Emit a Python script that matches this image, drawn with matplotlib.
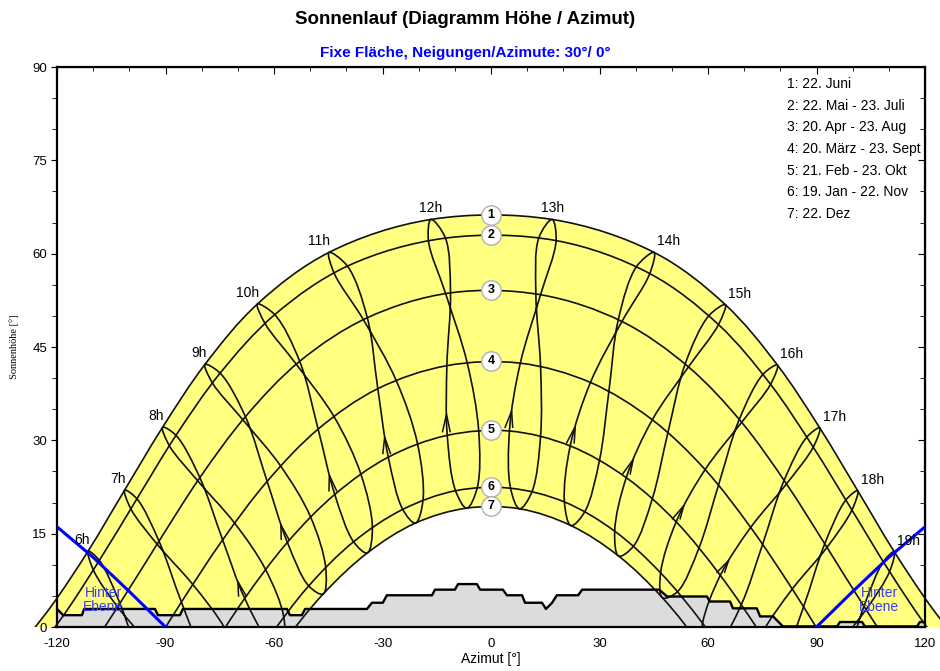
import numpy as np
import matplotlib
matplotlib.use("Agg")
import matplotlib.pyplot as plt
from matplotlib.path import Path
from matplotlib.patches import PathPatch, Rectangle, Polygon
from matplotlib.ticker import MultipleLocator

plt.rcParams["font.family"] = ["Liberation Sans", "DejaVu Sans"]
plt.rcParams["axes.unicode_minus"] = False

# sun position at the full hours 4h ... 21h (azimuth / height in degrees)
hours = list(range(4, 22))
az_jun22 = [-133.0, -121.9, -111.4, -101.3, -90.8, -79.1, -64.6, -44.8, -16.6, 16.9, 45.1, 64.8, 79.2, 90.9, 101.4, 111.5, 122.0, 133.1]
alt_jun22 = [-5.0, 3.1, 12.2, 22.0, 32.1, 42.2, 51.9, 60.2, 65.5, 65.5, 60.2, 51.8, 42.1, 32.0, 21.9, 12.1, 3.0, -5.1]
az_may22 = [-130.2, -118.9, -108.3, -97.9, -87.1, -74.9, -59.8, -39.7, -12.6, 18.0, 43.9, 62.9, 77.3, 89.1, 99.8, 110.2, 120.9, 132.4]
alt_may22 = [-7.0, 1.3, 10.7, 20.6, 30.8, 40.8, 50.2, 58.0, 62.5, 62.1, 56.8, 48.6, 39.0, 28.9, 18.8, 8.9, -0.3, -8.4]
az_jul23 = [-132.1, -120.6, -109.9, -99.6, -88.9, -77.0, -62.5, -43.4, -17.3, 13.2, 40.2, 60.2, 75.2, 87.3, 98.1, 108.5, 119.1, 130.5]
alt_jul23 = [-8.3, -0.1, 9.1, 19.0, 29.1, 39.2, 48.8, 56.9, 62.1, 62.5, 57.9, 50.0, 40.6, 30.5, 20.4, 10.5, 1.1, -7.2]
az_apr20 = [-125.7, -113.7, -102.6, -91.8, -80.5, -67.9, -52.9, -34.2, -11.2, 13.7, 36.2, 54.6, 69.3, 81.7, 92.9, 103.7, 114.8, 126.9]
alt_apr20 = [-14.8, -5.9, 3.8, 13.8, 24.0, 33.8, 42.7, 49.7, 53.7, 53.4, 49.1, 41.8, 32.9, 23.0, 12.8, 2.8, -6.8, -15.6]
az_aug23 = [-126.3, -114.3, -103.2, -92.3, -81.1, -68.6, -53.8, -35.3, -12.5, 12.4, 35.2, 53.7, 68.6, 81.0, 92.3, 103.1, 114.2, 126.3]
alt_aug23 = [-15.2, -6.4, 3.2, 13.3, 23.5, 33.3, 42.2, 49.4, 53.5, 53.6, 49.4, 42.3, 33.3, 23.5, 13.4, 3.3, -6.4, -15.2]
az_mar20 = [-120.7, -108.1, -96.6, -85.6, -74.2, -61.9, -47.8, -31.3, -12.2, 8.1, 27.5, 44.6, 59.2, 71.8, 83.3, 94.3, 105.6, 118.0]
alt_mar20 = [-25.4, -16.1, -6.2, 4.0, 14.0, 23.4, 31.8, 38.3, 42.0, 42.4, 39.3, 33.3, 25.3, 16.0, 6.1, -4.1, -14.1, -23.6]
az_sep23 = [-117.0, -104.8, -93.5, -82.4, -70.9, -58.2, -43.4, -26.2, -6.6, 13.7, 32.6, 48.9, 62.9, 75.1, 86.4, 97.4, 108.9, 121.7]
alt_sep23 = [-22.9, -13.4, -3.4, 6.8, 16.7, 25.9, 33.8, 39.6, 42.5, 41.9, 37.9, 31.2, 22.8, 13.3, 3.2, -7.0, -16.9, -26.1]
az_feb21 = [-114.3, -101.4, -90.0, -79.1, -68.1, -56.3, -43.2, -28.4, -12.1, 5.1, 21.9, 37.4, 51.2, 63.4, 74.7, 85.5, 96.6, 108.8]
alt_feb21 = [-35.2, -25.5, -15.3, -5.2, 4.6, 13.6, 21.3, 27.3, 30.8, 31.5, 29.1, 24.0, 16.9, 8.3, -1.2, -11.2, -21.4, -31.3]
az_oct23 = [-107.5, -95.5, -84.5, -73.6, -62.3, -49.9, -36.0, -20.3, -3.4, 13.7, 30.0, 44.6, 57.5, 69.2, 80.2, 91.1, 102.6, 115.7]
alt_oct23 = [-30.3, -20.4, -10.2, -0.2, 9.2, 17.7, 24.6, 29.4, 31.5, 30.6, 26.8, 20.6, 12.7, 3.6, -6.2, -16.3, -26.4, -36.1]
az_jan19 = [-105.7, -93.4, -82.6, -72.2, -61.6, -50.4, -38.0, -24.4, -9.8, 5.4, 20.3, 34.2, 46.9, 58.5, 69.2, 79.6, 90.2, 102.0]
alt_jan19 = [-41.4, -31.4, -21.2, -11.3, -1.9, 6.6, 13.7, 18.9, 21.9, 22.3, 20.1, 15.4, 8.7, 0.6, -8.5, -18.3, -28.4, -38.6]
az_nov22 = [-100.7, -89.1, -78.5, -68.1, -57.3, -45.7, -32.8, -18.8, -3.8, 11.3, 25.9, 39.4, 51.6, 62.8, 73.3, 83.7, 94.7, 107.2]
alt_nov22 = [-37.5, -27.4, -17.2, -7.5, 1.6, 9.5, 16.0, 20.4, 22.4, 21.7, 18.5, 13.0, 5.7, -2.8, -12.3, -22.3, -32.4, -42.4]
az_dec22 = [-100.3, -88.7, -78.2, -68.1, -57.6, -46.4, -34.2, -20.9, -6.7, 7.9, 22.1, 35.3, 47.4, 58.5, 68.9, 79.1, 89.6, 101.4]
alt_dec22 = [-41.7, -31.6, -21.5, -11.7, -2.7, 5.3, 11.9, 16.7, 19.1, 19.0, 16.3, 11.4, 4.7, -3.4, -12.6, -22.3, -32.5, -42.6]

# small spikes on the hour lines (8h ... 17h): tip and foot
spike_tip_az = [-70.0, -58.1, -44.7, -29.4, -12.3, 5.7, 23.3, 39.3, 53.3, 65.7]
spike_tip_alt = [7.3, 16.4, 24.4, 30.5, 34.2, 34.7, 32.2, 26.9, 19.5, 10.7]
spike_foot_az = [-68.5, -56.7, -43.5, -28.6, -12.1, 5.2, 22.2, 37.7, 51.5, 63.8]
spike_foot_alt = [5.0, 14.1, 21.9, 27.9, 31.4, 32.1, 29.6, 24.6, 17.4, 8.8]

date_labels = ["1: 22. Juni", "2: 22. Mai - 23. Juli", "3: 20. Apr - 23. Aug",
               "4: 20. März - 23. Sept", "5: 21. Feb - 23. Okt",
               "6: 19. Jan - 22. Nov", "7: 22. Dez"]
noon_alt = [66.2, 63.0, 54.1, 42.7, 31.6, 22.5, 19.4]

# far horizon profile
hz_az = [-120, -118.3, -113.1, -112.5, -92.9, -92.1, -86, -85.2, -56.4, -55.6, -52.3, -51.4,
         -34.3, -32.9, -29.9, -28.8, -16.3, -15.5, -10, -9.1, -3.9, -3.0, 3.3, 4.4, 8.6, 9.4,
         14.1, 15.2, 16.9, 18.2, 24.1, 25.2, 46.5, 48.7, 59.7, 60.5, 66.1, 66.9, 73.5, 74.4,
         78, 80.7, 95.7, 96.5, 102.6, 103.4, 117.8, 118.6, 120]
hz_alt = [2.9, 1.9, 1.9, 2.9, 2.9, 1.9, 1.9, 2.9, 2.9, 1.9, 1.9, 2.9,
          2.9, 3.9, 3.9, 5.1, 5.1, 6.0, 6.0, 6.9, 6.9, 6.0, 6.0, 5.1, 5.1, 3.9,
          3.9, 2.9, 3.9, 5.1, 5.1, 6.0, 6.0, 4.9, 4.9, 4.1, 4.1, 3.0, 3.0, 1.7,
          1.7, 0.1, 0.1, 0.8, 0.8, 0.1, 0.1, 0.8, 0.8]

# plane of the tilted collector ("Hinter Ebene")
plane_az = [-120, -110, -100, -90]
plane_alt = [16.1, 11.2, 5.7, 0.0]

AZ = {"jun22": az_jun22, "may22": az_may22, "jul23": az_jul23, "apr20": az_apr20,
      "aug23": az_aug23, "mar20": az_mar20, "sep23": az_sep23, "feb21": az_feb21,
      "oct23": az_oct23, "jan19": az_jan19, "nov22": az_nov22, "dec22": az_dec22}
ALT = {"jun22": alt_jun22, "may22": alt_may22, "jul23": alt_jul23, "apr20": alt_apr20,
       "aug23": alt_aug23, "mar20": alt_mar20, "sep23": alt_sep23, "feb21": alt_feb21,
       "oct23": alt_oct23, "jan19": alt_jan19, "nov22": alt_nov22, "dec22": alt_dec22}
curves = ["jun22", "may22", "apr20", "mar20", "feb21", "jan19", "dec22"]
year = ["dec22", "jan19", "feb21", "mar20", "apr20", "may22", "jun22",
        "jul23", "aug23", "sep23", "oct23", "nov22"]


def smooth_path(xs, ys, closed=False):
    # centripetal catmull-rom through the points, drawn as bezier segments
    p = np.column_stack([xs, ys]).astype(float)
    if closed:
        ext = np.vstack([p[-1], p, p[0], p[1]])
    else:
        ext = np.vstack([2 * p[0] - p[1], p, 2 * p[-1] - p[-2]])
    sc = np.array([1.0, 1.7])
    verts, codes = [ext[1]], [Path.MOVETO]
    for i in range(1, len(ext) - 2):
        p0, p1, p2, p3 = ext[i - 1], ext[i], ext[i + 1], ext[i + 2]
        d0 = max(np.hypot(*((p1 - p0) * sc)) ** 0.5, 1e-3)
        d1 = max(np.hypot(*((p2 - p1) * sc)) ** 0.5, 1e-3)
        d2 = max(np.hypot(*((p3 - p2) * sc)) ** 0.5, 1e-3)
        m1 = d1 * ((p1 - p0) / d0 - (p2 - p0) / (d0 + d1) + (p2 - p1) / d1)
        m2 = d1 * ((p2 - p1) / d1 - (p3 - p1) / (d1 + d2) + (p3 - p2) / d2)
        verts += [p1 + m1 / 3, p2 - m2 / 3, p2]
        codes += [Path.CURVE4] * 3
    return Path(verts, codes)


fig = plt.figure(figsize=(9.4, 6.71), dpi=100)
ax = fig.add_axes([57 / 940, 44 / 671, 868 / 940, 560 / 671])
ax.set_xlim(-120, 120)
ax.set_ylim(0, 90)
clip = Rectangle((-130, 0), 260, 95, transform=ax.transData)

# yellow band between 22 June and 22 Dec
pj = smooth_path(AZ["jun22"], ALT["jun22"])
pd_ = smooth_path(AZ["dec22"][::-1], ALT["dec22"][::-1])
band = Path(np.vstack([pj.vertices, pd_.vertices]),
            list(pj.codes) + [Path.LINETO] + list(pd_.codes[1:]))
yel = PathPatch(band, facecolor="#ffff80", edgecolor="none", zorder=1)
ax.add_patch(yel)
yel.set_clip_path(clip)

# horizon
ax.add_patch(Polygon(list(zip(hz_az, hz_alt)) + [(120, 0), (-120, 0)],
                     closed=True, facecolor="#dcdcdc", edgecolor="none", zorder=2))
ax.plot(hz_az, hz_alt, color="black", lw=1.7, zorder=4)

# date curves
for c in curves:
    pp = PathPatch(smooth_path(AZ[c], ALT[c]), facecolor="none",
                   edgecolor="#111111", lw=1.2, zorder=3)
    ax.add_patch(pp)
    pp.set_clip_path(clip)

# hour lines (analemma) 6h ... 19h
for h in range(6, 20):
    i = hours.index(h)
    xs = [AZ[k][i] for k in year]
    ys = [ALT[k][i] for k in year]
    pp = PathPatch(smooth_path(xs, ys, closed=True), facecolor="none",
                   edgecolor="#111111", lw=1.2, zorder=3)
    ax.add_patch(pp)
    pp.set_clip_path(clip)
    xj, yj = AZ["jun22"][i], ALT["jun22"][i]
    if h < 12:
        ax.annotate(f"{h}h", (xj, yj), xytext=(1, 3), textcoords="offset points",
                    ha="right", va="bottom", fontsize=10, zorder=7)
    elif h < 14:
        ax.annotate(f"{h}h", (xj, yj), xytext=(0, 3), textcoords="offset points",
                    ha="center", va="bottom", fontsize=10, zorder=7)
    else:
        ax.annotate(f"{h}h", (xj, yj), xytext=(2, 3), textcoords="offset points",
                    ha="left", va="bottom", fontsize=10, zorder=7)

for ta, tb, fa, fb in zip(spike_tip_az, spike_tip_alt, spike_foot_az, spike_foot_alt):
    ax.plot([fa - 1.3, ta, fa + 0.8], [fb, tb, fb], color="#111111", lw=1.1, zorder=3)

# collector plane
ax.plot(plane_az, plane_alt, color="#0000ff", lw=2.2, zorder=5)
ax.plot([-a for a in plane_az], plane_alt, color="#0000ff", lw=2.2, zorder=5)
ax.text(-107.2, 4.3, "Hinter\nEbene", color="#3a3aff", fontsize=10, ha="center",
        va="center", linespacing=1.0, zorder=5)
ax.text(107.4, 4.3, "Hinter\nEbene", color="#3a3aff", fontsize=10, ha="center",
        va="center", linespacing=1.0, zorder=5)

# date numbers
for n, a in enumerate(noon_alt, start=1):
    ax.plot(0, a, "o", ms=14, mfc="white", mec="#b0b0b0", mew=1.0, zorder=6)
    ax.text(0, a, str(n), ha="center", va="center", fontsize=9,
            fontweight="bold", zorder=7)

for i, s in enumerate(date_labels):
    ax.text(0.841, 0.970 - i * 0.0388, s, transform=ax.transAxes,
            fontsize=10, va="center", ha="left")

# axes and ticks
ax.set_xticks(range(-120, 121, 30))
ax.set_yticks(range(0, 91, 15))
ax.yaxis.set_minor_locator(MultipleLocator(5))
ax.tick_params(axis="x", which="both", length=0, pad=8, labelsize=9.5)
ax.tick_params(axis="y", which="major", direction="out", length=4, labelsize=9.5, pad=3)
ax.tick_params(axis="y", which="minor", direction="out", length=3.5)
for s in ax.spines.values():
    s.set_linewidth(1.6)

top = ax.secondary_xaxis("top")
top.set_xticks(range(-120, 121, 30))
top.xaxis.set_minor_locator(MultipleLocator(10))
top.set_xticklabels([])
top.tick_params(which="major", direction="in", length=5)
top.tick_params(which="minor", direction="in", length=3)
right = ax.secondary_yaxis("right")
right.set_yticks(range(0, 91, 15))
right.yaxis.set_minor_locator(MultipleLocator(5))
right.set_yticklabels([])
right.tick_params(which="major", direction="in", length=5)
right.tick_params(which="minor", direction="in", length=3.5)

ax.set_xlabel("Azimut [°]", fontsize=10, labelpad=1)
ax.set_ylabel("Sonnenhöhe [°]", fontsize=7.5, family="Liberation Serif", labelpad=10)

fig.text(465 / 940, 1 - 20 / 671, "Sonnenlauf (Diagramm Höhe / Azimut)",
         ha="center", va="center", fontsize=13.5, fontweight="bold")
fig.text(465 / 940, 1 - 53 / 671, "Fixe Fläche, Neigungen/Azimute: 30°/ 0°",
         ha="center", va="center", fontsize=11, fontweight="bold", color="#0000ff")

fig.savefig("out.png", dpi=100)
